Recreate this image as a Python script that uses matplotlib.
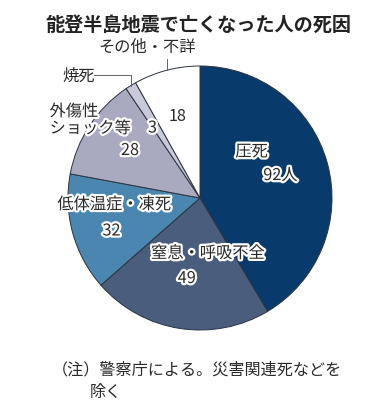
import matplotlib
matplotlib.use("Agg")
import matplotlib.pyplot as plt
import matplotlib.patheffects as pe
import numpy as np

plt.rcParams["font.family"] = ["Noto Sans CJK JP", "DejaVu Sans"]

TITLE = "能登半島地震で亡くなった人の死因"
causes = ["圧死", "窒息・呼吸不全", "低体温症・凍死", "外傷性\nショック等", "焼死", "その他・不詳"]
deaths = [92, 49, 32, 28, 3, 18]
colors = ["#083a6b", "#4a5d7c", "#4a86b0", "#a9a9bf", "#c9c9d9", "#ffffff"]
NOTE = ["（注）警察庁による。災害関連死などを", "除く"]

W, H = 391, 408
fig = plt.figure(figsize=(W / 100, H / 100), dpi=100)
cx, cy, r = 200, 198, 132
ax = fig.add_axes([(cx - r) / W, (H - cy - r) / H, 2 * r / W, 2 * r / H])
wedges, _ = ax.pie(deaths, colors=colors, startangle=90, counterclock=False,
                   radius=1, wedgeprops=dict(edgecolor="#2b3340", linewidth=0.7))
ax.set_xlim(-1, 1)
ax.set_ylim(-1, 1)
ax.axis("off")

halo = [pe.withStroke(linewidth=3.2, foreground="white")]
ink = "#2a2a2a"


def lab(x, y, s, size=11.7, ha="center", stroke=True):
    ax.text(x, y, s, ha=ha, va="center", fontsize=size, color=ink,
            path_effects=halo if stroke else None, clip_on=False,
            linespacing=1.0)


lab(0.39, 0.35, causes[0])
lab(0.61, 0.17, f"{deaths[0]}人")
lab(0.06, -0.42, causes[1])
lab(-0.10, -0.61, str(deaths[1]))
lab(-0.65, -0.05, causes[2])
lab(-0.67, -0.25, str(deaths[2]))
lab(-1.14, 0.59, causes[3], ha="left")
lab(-0.53, 0.36, str(deaths[3]))
lab(-0.36, 0.53, str(deaths[4]))
lab(-0.17, 0.62, str(deaths[5]), stroke=False)
lab(-0.92, 0.92, causes[4], stroke=False)
lab(-0.40, 1.14, causes[5], stroke=False)

# leader lines for the small slices
def mid(w):
    a = np.deg2rad((w.theta1 + w.theta2) / 2)
    return np.cos(a), np.sin(a)

fx, fy = mid(wedges[4])
ax.plot([-0.80, fx, fx], [0.93, 0.93, fy], color="#666666", lw=0.7, clip_on=False)
ox, oy = mid(wedges[5])
ax.plot([ox, ox], [oy, 1.05], color="#666666", lw=0.7, clip_on=False)

fig.text(198 / W, 1 - 25 / H, TITLE, ha="center", va="center",
         fontsize=13.8, fontweight="bold", color="#222222")
fig.text(52 / W, 1 - 370 / H, NOTE[0], ha="left", va="center",
         fontsize=11.6, color=ink)
fig.text(90 / W, 1 - 392 / H, NOTE[1], ha="left", va="center",
         fontsize=11.6, color=ink)

fig.savefig("out.png", dpi=100, facecolor="white")
